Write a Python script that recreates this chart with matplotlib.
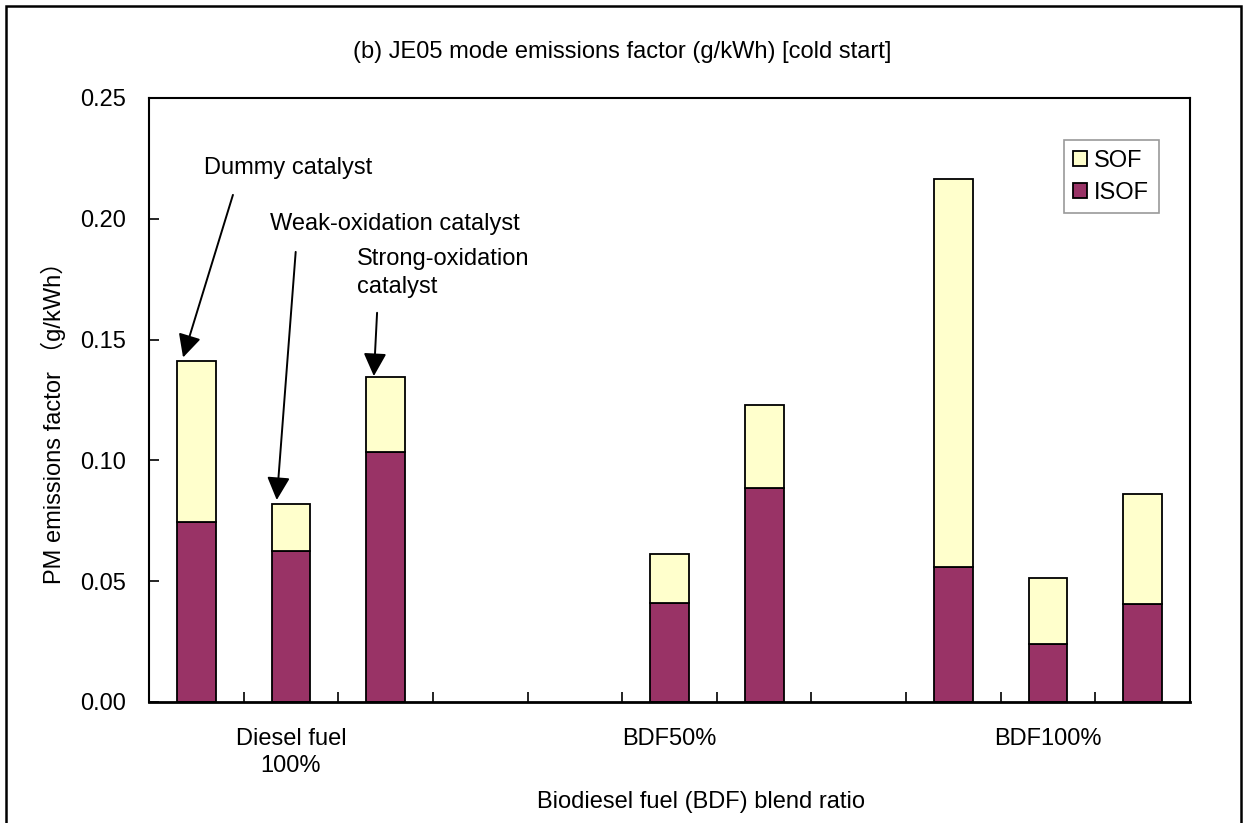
import numpy as np
import matplotlib.pyplot as plt
from matplotlib.patches import Rectangle

plt.rcParams['font.family'] = ['Liberation Sans', 'Noto Sans CJK SC', 'DejaVu Sans']

# 11 category slots on the x axis (empty slots are gaps in the Excel chart)
slot_labels = ['', 'Diesel fuel\n100%', '', '', '', 'BDF50%', '', '', '', 'BDF100%', '']
nan = np.nan
isof = np.array([0.0745, 0.0625, 0.1035, nan, nan, 0.0410, 0.0886, nan, 0.0559, 0.0240, 0.0405])
total = np.array([0.1411, 0.0821, 0.1346, nan, nan, 0.0613, 0.1230, nan, 0.2166, 0.0513, 0.0862])
sof = total - isof

yticks = [0.00, 0.05, 0.10, 0.15, 0.20, 0.25]

ISOF_COLOR = '#993366'
SOF_COLOR = '#FFFFCC'
FS = 17

fig = plt.figure(figsize=(12.47, 8.23), dpi=100, facecolor='white')
ax = fig.add_axes([149 / 1247, 1 - 702 / 823, (1190 - 149) / 1247, (702 - 98) / 823])

x = np.arange(len(slot_labels))
ax.bar(x, isof, width=0.41, color=ISOF_COLOR, edgecolor='black', linewidth=1.3, label='ISOF')
ax.bar(x, sof, width=0.41, bottom=isof, color=SOF_COLOR, edgecolor='black', linewidth=1.3, label='SOF')

ax.set_xlim(-0.5, len(slot_labels) - 0.5)
ax.set_ylim(0, 0.25)
ax.set_yticks(yticks)
ax.set_yticklabels([f'{v:.2f}' for v in yticks], fontsize=FS)
ax.tick_params(axis='y', direction='in', length=7, width=1.2, pad=16.5)

# category labels at the slot centres, tick marks between slots
ax.set_xticks(x)
ax.set_xticklabels(slot_labels, fontsize=FS, linespacing=1.3)
ax.tick_params(axis='x', which='major', length=0, pad=19)
ax.set_xticks(np.arange(0.5, len(slot_labels) - 1), minor=True)
ax.tick_params(axis='x', which='minor', direction='in', length=7, width=1.2)

for s in ax.spines.values():
    s.set_linewidth(1.5)
ax.spines['bottom'].set_linewidth(2)

ax.set_ylabel('PM emissions factor （g/kWh）', fontsize=FS)
ax.yaxis.set_label_coords(-0.080, 0.472)
ax.set_xlabel('Biodiesel fuel (BDF) blend ratio', fontsize=FS)
ax.xaxis.set_label_coords(0.53, -0.148)
fig.text(622 / 1247, 1 - 52 / 823, '(b) JE05 mode emissions factor (g/kWh) [cold start]',
         fontsize=FS, ha='center', va='center')

handles, labels = ax.get_legend_handles_labels()
leg = ax.legend(handles[::-1], labels[::-1], loc='upper right', bbox_to_anchor=(0.970, 0.930),
                fontsize=FS, frameon=True, fancybox=False, edgecolor='#808080',
                handlelength=0.6, handleheight=0.6, handletextpad=0.3,
                labelspacing=0.42, borderpad=0.4, borderaxespad=0)
leg.get_frame().set_linewidth(1.2)

# catalyst annotations
arrow = dict(arrowstyle='-|>,head_length=0.5,head_width=0.25', mutation_scale=28,
             color='black', lw=1.4, shrinkA=0, shrinkB=0)
ax.text(0.97, 0.2210, 'Dummy catalyst', fontsize=FS, ha='center', va='center')
ax.annotate('', xy=(-0.14, total[0] + 0.0015), xytext=(0.387, 0.2099), arrowprops=arrow)
ax.text(2.10, 0.1980, 'Weak-oxidation catalyst', fontsize=FS, ha='center', va='center')
ax.annotate('', xy=(0.85, total[1] + 0.0015), xytext=(1.05, 0.1863), arrowprops=arrow)
ax.text(1.696, 0.1775, 'Strong-oxidation\ncatalyst', fontsize=FS, ha='left', va='center',
        linespacing=1.35)
ax.annotate('', xy=(1.876, total[2] + 0.0003), xytext=(1.91, 0.1611), arrowprops=arrow)

# outer chart frame
fig.patches.append(Rectangle((6 / 1247, -0.01), (1241 - 6) / 1247, 1 - 6 / 823 + 0.01,
                             transform=fig.transFigure, fill=False, edgecolor='black',
                             linewidth=1.8))

fig.savefig('out.png', dpi=100)
